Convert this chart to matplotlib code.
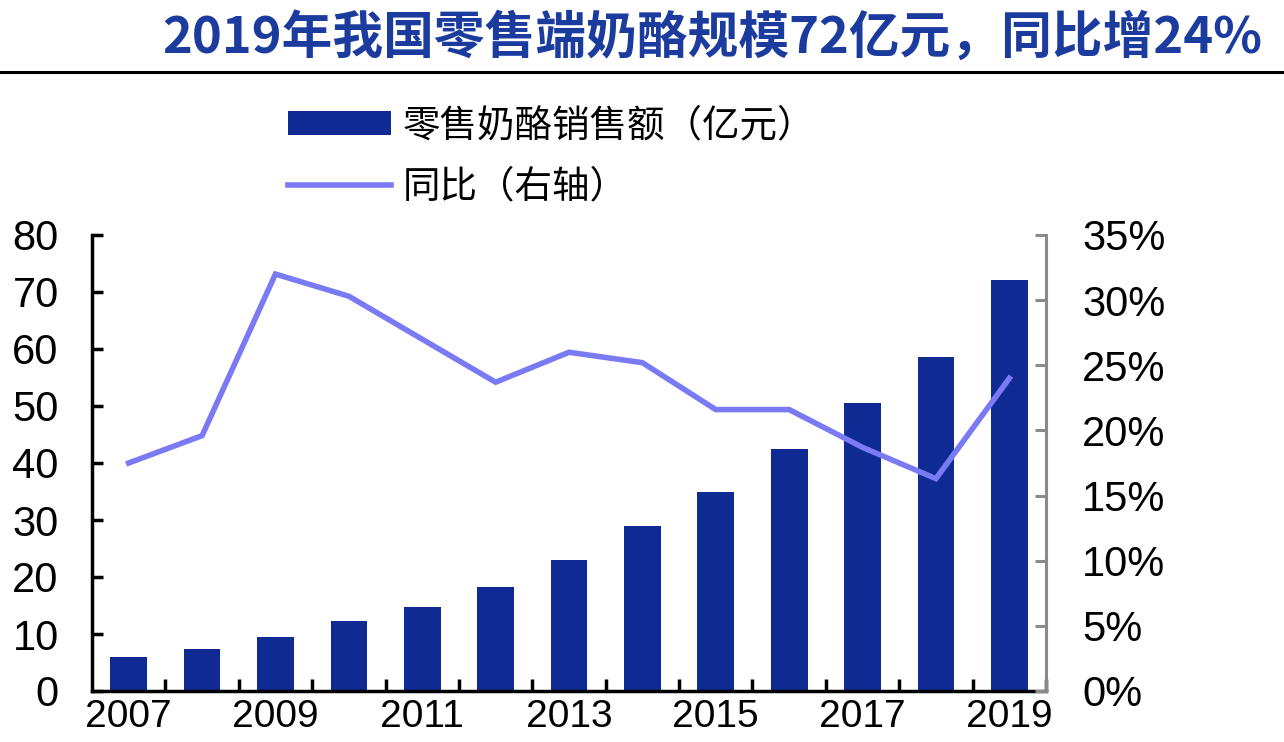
import matplotlib
matplotlib.use("Agg")
import matplotlib.pyplot as plt
from matplotlib.lines import Line2D
import numpy as np

years = [2007, 2008, 2009, 2010, 2011, 2012, 2013, 2014, 2015, 2016, 2017, 2018, 2019]
sales = [6.0, 7.4, 9.5, 12.2, 14.8, 18.2, 22.9, 28.9, 35.0, 42.5, 50.6, 58.6, 72.1]
yoy = [17.5, 19.6, 32.0, 30.3, 27.0, 23.7, 26.0, 25.2, 21.6, 21.6, 18.7, 16.3, 24.0]
left_ticks = [0, 10, 20, 30, 40, 50, 60, 70, 80]
right_ticks = [0, 5, 10, 15, 20, 25, 30, 35]
title = "2019年我国零售端奶酪规模72亿元，同比增24%"
bar_label = "零售奶酪销售额（亿元）"
line_label = "同比（右轴）"

BAR = "#0f2a92"
LINE = "#7a7af5"
TITLE = "#1b3c9e"

plt.rcParams['font.family'] = ['Liberation Sans', 'Noto Sans CJK SC', 'DejaVu Sans']

W, H = 1284, 742
fig = plt.figure(figsize=(W / 100, H / 100), dpi=100)
fig.patch.set_facecolor("white")

ax = fig.add_axes([92 / W, 51 / H, (1046 - 92) / W, (691 - 235) / H])
ax2 = ax.twinx()

x = np.arange(len(years))
ax.bar(x, sales, width=0.5, color=BAR, zorder=2, label=bar_label)
ax2.plot(x, yoy, color=LINE, lw=4.0, solid_joinstyle='miter', zorder=3, label=line_label)

ax.set_xlim(-0.5, len(years) - 0.5)
ax.set_ylim(0, 80)
ax2.set_ylim(0, 35)

ax.set_yticks(left_ticks)
ax.set_yticklabels([str(v) for v in left_ticks])
ax2.set_yticks(right_ticks)
ax2.set_yticklabels([f"{v}%" for v in right_ticks])

ax.set_xticks(x[::2])
ax.set_xticklabels([str(y) for y in years[::2]])
ax.set_xticks(np.arange(len(years)) + 0.5, minor=True)

for a in (ax, ax2):
    a.spines['top'].set_visible(False)
ax.spines['right'].set_visible(False)
ax2.spines['left'].set_visible(False)
ax2.spines['bottom'].set_visible(False)
ax.spines['left'].set_linewidth(2.5)
ax.spines['bottom'].set_linewidth(2.5)
ax.spines['left'].set_color('black')
ax2.spines['right'].set_color('#8a8a8a')
ax2.spines['right'].set_linewidth(2.2)

ax.tick_params(axis='y', direction='in', length=8, width=2.5, labelsize=30, pad=24, colors='black')
ax.tick_params(axis='x', which='major', length=0, labelsize=28, pad=6)
ax.tick_params(axis='x', which='minor', direction='in', length=9, width=2.5, color='black')
ax2.tick_params(axis='y', direction='in', length=8, width=2.2, color='#8a8a8a', labelcolor='black',
                labelsize=30, pad=26)

# Title
fig.text(1262 / W, 1 - 38 / H, title, ha='right', va='center', fontsize=36.5,
         fontweight='black', color=TITLE, family=['Noto Sans CJK SC', 'DejaVu Sans'])
fig.add_artist(Line2D([0, 1], [1 - 72 / H, 1 - 72 / H], color='black', lw=2.2,
                      transform=fig.transFigure))

# Legend
h1, l1 = ax.get_legend_handles_labels()
h2, l2 = ax2.get_legend_handles_labels()
leg = fig.legend(h1 + h2, l1 + l2, loc='upper left', bbox_to_anchor=(288 / W, 1 - 106 / H),
                 frameon=False, handlelength=2.75, handleheight=0.6,
                 handletextpad=0.3, labelspacing=0.6, borderpad=0, borderaxespad=0,
                 prop={'family': ['Noto Sans CJK SC', 'DejaVu Sans'], 'size': 27})

fig.savefig("out.png", dpi=100, facecolor='white')
